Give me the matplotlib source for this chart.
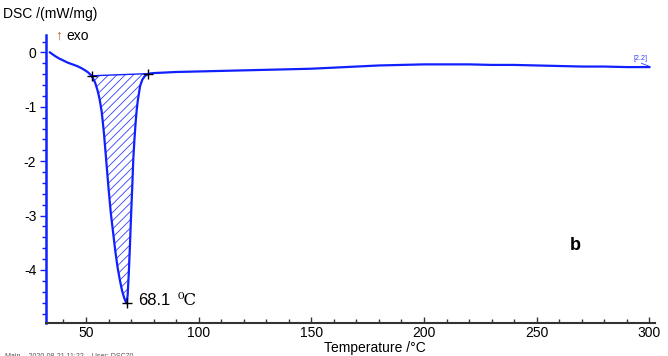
import matplotlib
matplotlib.use("Agg")
import matplotlib.pyplot as plt
from matplotlib.ticker import MultipleLocator

# ---- data ----
temperature = [34, 36, 38, 40, 42, 44, 46, 48, 50, 51, 52, 52.5, 53, 54, 55, 56, 57, 58,
               59, 60, 61, 62, 63, 64, 65, 66, 67, 67.6, 68.1, 68.5, 69, 69.5, 70, 70.5,
               71, 71.5, 72, 72.5, 73, 73.5, 74, 75, 76, 77, 78, 80, 85, 90, 100, 110,
               120, 130, 140, 150, 160, 170, 180, 190, 200, 210, 220, 230, 240, 250,
               260, 270, 280, 290, 300]
dsc = [0.0, -0.06, -0.11, -0.15, -0.19, -0.22, -0.25, -0.29, -0.34, -0.37, -0.41, -0.43,
       -0.47, -0.55, -0.68, -0.85, -1.10, -1.50, -2.00, -2.50, -2.95, -3.30, -3.65, -3.95,
       -4.18, -4.38, -4.52, -4.58, -4.61, -4.45, -4.05, -3.55, -3.00, -2.50, -1.95, -1.60,
       -1.30, -1.06, -0.88, -0.75, -0.62, -0.50, -0.44, -0.41, -0.39, -0.38, -0.37, -0.36,
       -0.35, -0.34, -0.33, -0.32, -0.31, -0.30, -0.28, -0.26, -0.24, -0.23, -0.22, -0.22,
       -0.22, -0.23, -0.23, -0.24, -0.25, -0.26, -0.26, -0.27, -0.27]

peak_start = (52.5, -0.43)
peak_end = (77.7, -0.39)
peak_T = 68.1
peak_val = -4.61
peak_label = "68.1"
peak_unit = "\u2070C"

x_ticks = [50, 100, 150, 200, 250, 300]
y_ticks = [0, -1, -2, -3, -4]

plt.rcParams['font.family'] = ['Liberation Sans', 'DejaVu Sans']
plt.rcParams['hatch.linewidth'] = 0.6
plt.rcParams['hatch.color'] = '#3040ff'

W, H = 668, 356
fig = plt.figure(figsize=(W / 100, H / 100), dpi=100)
ax = fig.add_axes([46 / W, 1 - 323.3 / H, (655 - 46) / W, (323.3 - 35) / H])

blue = '#1020ff'
ax.plot(temperature, dsc, color=blue, lw=1.6, zorder=3)

# hatched peak area between curve and baseline
Ts = [t for t in temperature if peak_start[0] <= t <= peak_end[0]]
Vs = [v for t, v in zip(temperature, dsc) if peak_start[0] <= t <= peak_end[0]]
Ts = [peak_start[0]] + Ts + [peak_end[0]]
Vs = [peak_start[1]] + Vs + [peak_end[1]]
slope = (peak_end[1] - peak_start[1]) / (peak_end[0] - peak_start[0])
base = [peak_start[1] + slope * (t - peak_start[0]) for t in Ts]
ax.fill_between(Ts, Vs, base, facecolor='none', edgecolor='#3040ff', hatch='////', lw=0, zorder=2)
ax.plot([peak_start[0], peak_end[0]], [peak_start[1], peak_end[1]], color=blue, lw=1.0, zorder=3)

# markers
ax.plot([peak_start[0], peak_end[0], peak_T], [peak_start[1], peak_end[1], peak_val],
        linestyle='none', marker='+', color='black', ms=7, mew=1.0, zorder=4)

ax.text(peak_T + 4.9, peak_val + 0.05, peak_label, fontsize=12, va='center', ha='left')
ax.text(peak_T + 22.4, peak_val + 0.05, peak_unit, fontsize=12, va='center', ha='left',
        family=['DejaVu Serif'])

ax.set_xlim(32.25, 302.5)
ax.set_ylim(-4.98, 0.32)
ax.set_xticks(x_ticks)
ax.set_yticks(y_ticks)
ax.set_yticklabels([str(v) for v in y_ticks])
ax.xaxis.set_minor_locator(MultipleLocator(10))
ax.yaxis.set_minor_locator(MultipleLocator(0.2))

for s in ['top', 'right']:
    ax.spines[s].set_visible(False)
ax.spines['left'].set_color(blue)
ax.spines['left'].set_linewidth(1.8)
ax.spines['bottom'].set_color('#333333')
ax.spines['bottom'].set_linewidth(1.5)

ax.tick_params(axis='x', which='major', direction='in', length=4, width=1, color='#333333',
               labelsize=10, pad=2)
ax.tick_params(axis='x', which='minor', direction='in', length=3, width=1, color='#333333')
ax.tick_params(axis='y', which='major', direction='out', length=4, width=1, color=blue,
               labelsize=10, pad=3)
ax.tick_params(axis='y', which='minor', direction='out', length=3, width=1, color=blue)

# texts
fig.text(3 / W, 1 - 14 / H, "DSC /(mW/mg)", fontsize=10, va='center', ha='left')
fig.text(375 / W, 1 - 348 / H, "Temperature /\u00b0C", fontsize=10, va='center', ha='center')
fig.text(55 / W, 1 - 36 / H, "\u2191", fontsize=10, va='center', ha='left', color='#b06030')
fig.text(66 / W, 1 - 36 / H, "exo", fontsize=10, va='center', ha='left')
fig.text(575 / W, 1 - 245 / H, "b", fontsize=13, fontweight='bold', va='center', ha='center')
fig.text(633 / W, 1 - 58 / H, "[2.2]", fontsize=5, color='#3040ff', va='center', ha='left')
ax.plot([296.5, 300.2], [-0.2, -0.26], color='#3040ff', lw=0.6)
fig.text(5 / W, -4 / H, "Main    2020-08-21 11:22    User: DSC70", fontsize=5, color='#555555',
         va='bottom', ha='left')

fig.savefig("out.png", dpi=100)
